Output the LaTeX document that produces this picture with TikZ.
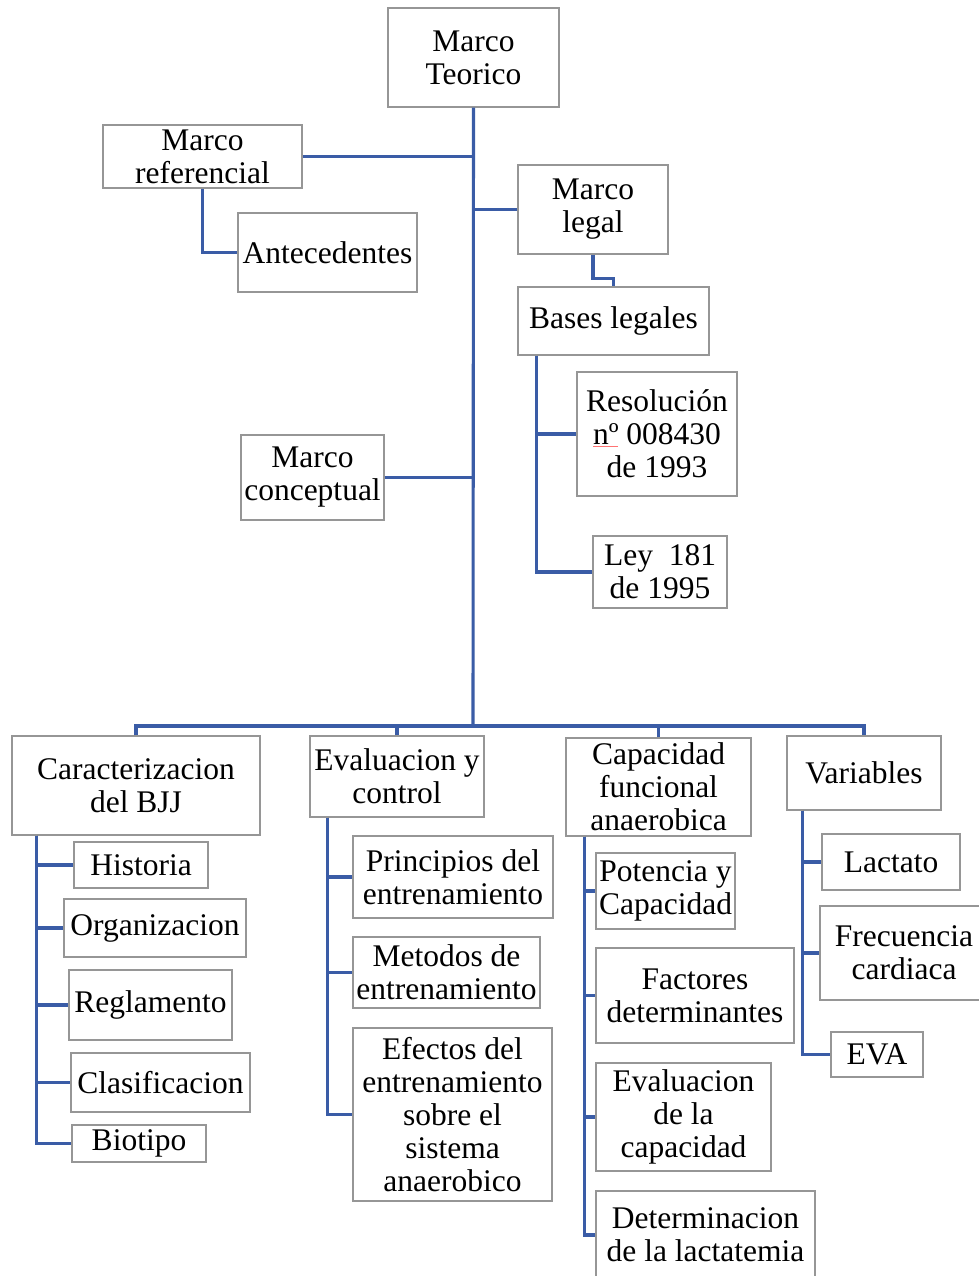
\documentclass[tikz,border=0pt]{standalone}
\usepackage{fontspec}
\setmainfont{Liberation Serif}
\definecolor{linkblue}{RGB}{58,92,166}
\definecolor{boxgray}{RGB}{150,150,150}
\tikzset{
  box/.style={draw=boxgray, line width=1.4pt, fill=white, inner sep=0pt,
    align=center, font=\fontsize{31.5}{33}\selectfont},
  link/.style={draw=linkblue, line width=3.1pt}
}
\newcommand{\bx}[5]{\node[box, minimum width=#3, minimum height=#4] (#1) at #2 {#5};}
\begin{document}
\begin{tikzpicture}[x=1pt, y=-1pt]
\useasboundingbox (0,0) rectangle (979,1276);

% top level
\bx{teo}{(473.5,57.5)}{171pt}{99pt}{Marco\\Teorico}
\bx{ref}{(202.5,156.5)}{199pt}{63pt}{Marco\\referencial}
\bx{ant}{(327.5,252.5)}{179pt}{79pt}{Antecedentes}
\bx{leg}{(593,209.5)}{150pt}{89pt}{Marco\\legal}
\bx{bas}{(613.5,321)}{191pt}{68pt}{Bases legales}
\bx{res}{(657,434)}{160pt}{124pt}{Resolución\\nº 008430\\de 1993}
\bx{ley}{(660,572)}{134pt}{72pt}{Ley~ 181\\de 1995}
\bx{con}{(312.5,477.5)}{143pt}{85pt}{Marco\\conceptual}

% second level
\bx{car}{(136,785.5)}{248pt}{99pt}{Caracterizacion\\del BJJ}
\bx{eva}{(397,776.5)}{174pt}{81pt}{Evaluacion y\\control}
\bx{cap}{(658.5,787)}{185pt}{98pt}{Capacidad\\funcional\\anaerobica}
\bx{var}{(864,773)}{154pt}{74pt}{Variables}

% Caracterizacion del BJJ
\bx{his}{(141,865)}{134pt}{46pt}{Historia}
\bx{org}{(155,928)}{182pt}{58pt}{Organizacion}
\bx{reg}{(150.5,1005)}{163pt}{70pt}{Reglamento}
\bx{cla}{(160.5,1082.5)}{179pt}{59pt}{Clasificacion}
\bx{bio}{(139,1143.5)}{134pt}{37pt}{Biotipo}

% Evaluacion y control
\bx{pri}{(453,877)}{200pt}{82pt}{Principios del\\entrenamiento}
\bx{met}{(446.5,972.5)}{187pt}{71pt}{Metodos de\\entrenamiento}
\bx{efe}{(452.5,1114.5)}{199pt}{173pt}{Efectos del\\entrenamiento\\sobre el\\sistema\\anaerobico}

% Capacidad funcional anaerobica
\bx{pot}{(665.5,891)}{139pt}{76pt}{Potencia y\\Capacidad}
\bx{fac}{(695,995.5)}{198pt}{95pt}{Factores\\determinantes}
\bx{evc}{(683.5,1117)}{175pt}{108pt}{Evaluacion\\de la\\capacidad}
\bx{det}{(705.5,1235)}{219pt}{88pt}{Determinacion\\de la lactatemia}

% Variables
\bx{lac}{(891,862)}{138pt}{56pt}{Lactato}
\bx{fre}{(904,953)}{168pt}{94pt}{Frecuencia\\cardiaca}
\bx{evA}{(877,1054.5)}{92pt}{45pt}{EVA}

% spell-check mark under the ordinal
\draw[red!55, line width=0.8pt] (593,446) -- (618,446);

% trunk and branches
\coordinate (hub) at (473,726);
\draw[link] (teo.south) -- (hub);
\draw[link] (ref.east) -- (ref.east -| hub);
\draw[link] (leg.west) -- (leg.west -| hub);
\draw[link] (con.east) -- (con.east -| hub);
\draw[link] (ref.south) |- (ant.west);
\draw[link] (leg.south) -- ++(0,24) -| (bas.north);
\draw[link] ([xshift=19pt]bas.south west) |- (res.west);
\draw[link] ([xshift=19pt]bas.south west) |- (ley.west);

% bottom bus
\draw[link] (car.north) |- (hub) -| (var.north);
\draw[link] (eva.north) -- (eva.north |- hub);
\draw[link] (cap.north) -- (cap.north |- hub);

% children
\foreach \c in {his,org,reg,cla,bio}
  \draw[link] ([xshift=25pt]car.south west) |- (\c.west);
\foreach \c in {pri,met,efe}
  \draw[link] ([xshift=18pt]eva.south west) |- (\c.west);
\foreach \c in {pot,fac,evc,det}
  \draw[link] ([xshift=19pt]cap.south west) |- (\c.west);
\foreach \c in {lac,fre,evA}
  \draw[link] ([xshift=16pt]var.south west) |- (\c.west);
\end{tikzpicture}
\end{document}
